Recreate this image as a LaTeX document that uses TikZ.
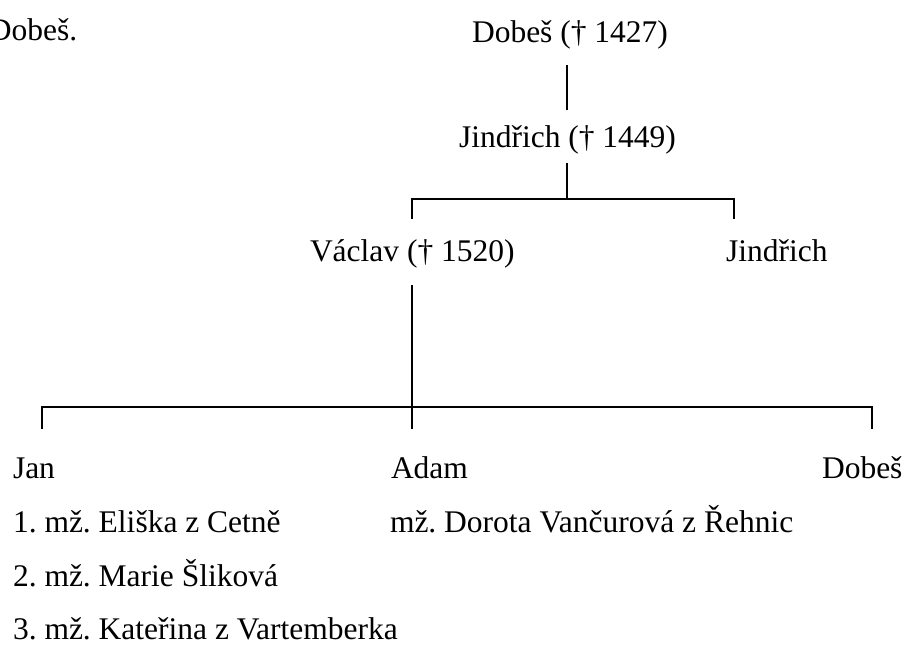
\documentclass[tikz,border=0pt]{standalone}
\usepackage{fontspec}
\setmainfont{Liberation Serif}
\frenchspacing
\begin{document}
\begin{tikzpicture}[x=1pt,y=-1pt,
  every node/.style={inner sep=0pt, outer sep=0pt, font=\fontsize{31.5}{38}\selectfont},
  lbl/.style={anchor=base west},
  conn/.style={line width=1.8pt}]
\useasboundingbox (0,0) rectangle (904,645);
% labels
\node[lbl] (top)   at (-11,40)  {Dobeš.};
\node[lbl] (d1427) at (472,42)  {Dobeš († 1427)};
\node[lbl] (j1449) at (459,147) {Jindřich († 1449)};
\node[lbl] (v1520) at (310,261) {Václav († 1520)};
\node[lbl] (jind)  at (726,261) {Jindřich};
\node[lbl] (jan)   at (13,478)  {Jan};
\node[lbl] (adam)  at (391,478) {Adam};
\node[lbl] (dobes) at (822,478) {Dobeš};
\node[lbl] (jan1)  at (13,532)  {1. mž. Eliška z Cetně};
\node[lbl] (adam1) at (390,532) {mž. Dorota Vančurová z Řehnic};
\node[lbl] (jan2)  at (13,586)  {2. mž. Marie Šliková};
\node[lbl] (jan3)  at (13,639)  {3. mž. Kateřina z Vartemberka};
% connector points
\coordinate (a1) at (567,65);
\coordinate (a2) at (567,110);
\coordinate (b1) at (567,163);
\coordinate (b2) at (567,199);
\coordinate (bl) at (412,199);
\coordinate (br) at (734,199);
\coordinate (blv) at (412,219);
\coordinate (brv) at (734,219);
\coordinate (c1) at (412,285);
\coordinate (c2) at (412,429);
\coordinate (hl) at (42,407);
\coordinate (hr) at (872,407);
\coordinate (hlv) at (42,429);
\coordinate (hrv) at (872,429);
% connectors
\draw[conn] (a1) -- (a2);
\draw[conn] (b1) -- (b2);
\draw[conn] (blv) -- (bl) -- (br) -- (brv);
\draw[conn] (c1) -- (c2);
\draw[conn] (hlv) -- (hl) -- (hr) -- (hrv);
\end{tikzpicture}
\end{document}
